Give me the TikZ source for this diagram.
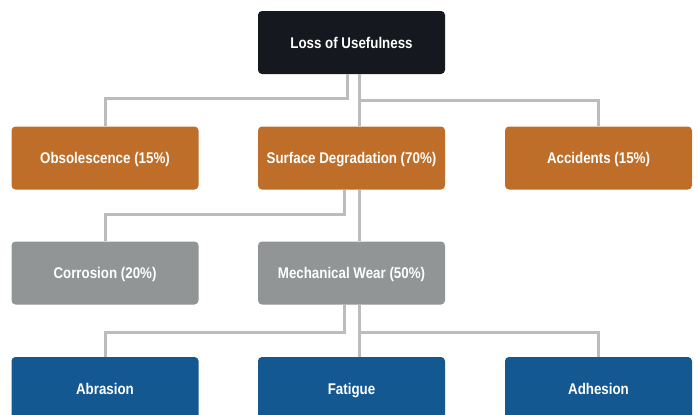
\documentclass[tikz,border=0pt]{standalone}
\usepackage{fontspec}
\setmainfont{Liberation Sans}[FakeStretch=0.86]
\usepackage{tikz}
\usetikzlibrary{positioning}

\definecolor{topdark}{HTML}{15181E}
\definecolor{rustorange}{HTML}{BF6E2A}
\definecolor{wornGray}{HTML}{929595}
\definecolor{steelBlue}{HTML}{145891}
\definecolor{linkGray}{HTML}{BBBDBD}

\begin{document}
\begin{tikzpicture}[x=1pt, y=-1pt]
			\tikzstyle{Box}		= [rounded corners=4pt, minimum width=187pt, minimum height=63pt, inner sep=0pt, text height=11pt, text depth=0pt, text=white, font=\fontsize{15.5}{17}\selectfont\bfseries]
			\tikzstyle{Root}	= [fill=topdark]
			\tikzstyle{Cause}	= [fill=rustorange]
			\tikzstyle{Kind}	= [fill=wornGray]
			\tikzstyle{Mech}	= [fill=steelBlue]
			\tikzstyle{Link}	= [line width=3pt, linkGray]

			\clip (0, 0) rectangle (697, 415);

			\node (loss) at (351.5, 42.5) [Box][Root] {Loss of Usefulness};

			\node (obs) at (105, 158) [Box][Cause] {Obsolescence (15\%)};
			\node (surf) at (351.5, 158) [Box][Cause] {Surface Degradation (70\%)};
			\node (acc) at (598.5, 158) [Box][Cause] {Accidents (15\%)};

			\node (corr) at (105, 273) [Box][Kind] {Corrosion (20\%)};
			\node (wear) at (351.5, 273) [Box][Kind] {Mechanical Wear (50\%)};

			\node (abr) at (105, 388.5) [Box][Mech] {Abrasion};
			\node (fat) at (351.5, 388.5) [Box][Mech] {Fatigue};
			\node (adh) at (598.5, 388.5) [Box][Mech] {Adhesion};

			\draw [-] ([xshift=-4.5]loss.south) -- ++(0, 24) -| (obs.north) [Link];
			\draw [-] ([xshift=8]loss.south) to ([xshift=8]surf.north) [Link];
			\draw [-] ([xshift=8]loss.south) -- ++(0, 26) -| (acc.north) [Link];

			\draw [-] ([xshift=-7.5]surf.south) -- ++(0, 25) -| (corr.north) [Link];
			\draw [-] ([xshift=8]surf.south) to ([xshift=8]wear.north) [Link];

			\draw [-] ([xshift=-7.5]wear.south) -- ++(0, 27.5) -| (abr.north) [Link];
			\draw [-] ([xshift=8]wear.south) to ([xshift=8]fat.north) [Link];
			\draw [-] ([xshift=8]wear.south) -- ++(0, 27.5) -| (adh.north) [Link];
		\end{tikzpicture}
\end{document}
